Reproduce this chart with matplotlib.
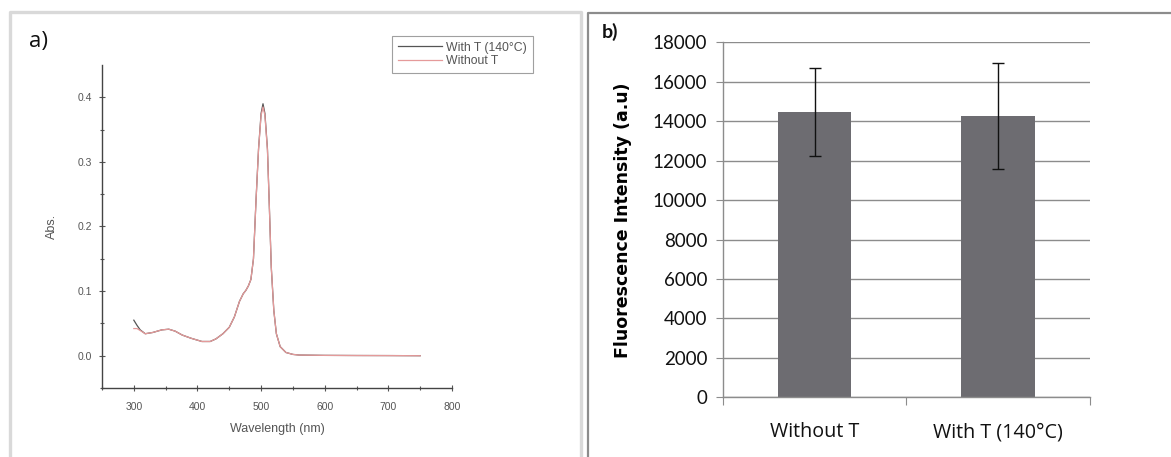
import matplotlib
matplotlib.use("Agg")
import matplotlib.pyplot as plt
from matplotlib.lines import Line2D

W, H = 1171, 457

# panel a) absorbance spectra
wavelength = [300, 305, 310, 318, 330, 344, 355, 365, 376, 390, 407, 420, 429,
              440, 450, 458, 466, 472, 476, 480, 484, 488, 492, 496, 500, 503,
              506, 510, 513, 516, 520, 524, 530, 539, 550, 560, 600, 650, 700, 750]
abs_with_t = [0.055, 0.047, 0.040, 0.034, 0.036, 0.040, 0.041, 0.038, 0.032, 0.027,
              0.022, 0.022, 0.026, 0.034, 0.044, 0.060, 0.084, 0.096, 0.101, 0.108,
              0.118, 0.150, 0.240, 0.320, 0.375, 0.390, 0.375, 0.320, 0.230, 0.137,
              0.070, 0.034, 0.014, 0.005, 0.002, 0.001, 0.0005, 0.0003, 0.0002, 0.0]
abs_without_t = [0.042, 0.042, 0.039, 0.034, 0.036, 0.040, 0.041, 0.038, 0.032, 0.027,
                 0.022, 0.022, 0.026, 0.034, 0.044, 0.060, 0.084, 0.096, 0.101, 0.108,
                 0.118, 0.150, 0.240, 0.320, 0.372, 0.385, 0.372, 0.318, 0.230, 0.137,
                 0.070, 0.034, 0.014, 0.005, 0.002, 0.001, 0.0005, 0.0003, 0.0002, 0.0]

# panel b) fluorescence
categories = ["Without T", "With T (140°C)"]
intensity = [14450, 14270]
intensity_err = [2230, 2670]

fig = plt.figure(figsize=(W / 100, H / 100), dpi=100)

def fx(px):
    return px / W

def fy(py):
    return 1 - py / H

# panel frames
fig.add_artist(Line2D([fx(9.5), fx(9.5), fx(581), fx(581)], [0, fy(12), fy(12), 0],
                      color="#d9d9d9", lw=2.4, transform=fig.transFigure))
fig.add_artist(Line2D([fx(588), fx(588), 1], [0, fy(12.5), fy(12.5)],
                      color="#8c8c8c", lw=1.6, transform=fig.transFigure))

# ---- a) ----
axa = fig.add_axes([fx(102), fy(388), fx(452 - 102), (388 - 65) / H])
axa.plot(wavelength, abs_with_t, color="#555555", lw=0.9, label="With T (140°C)")
axa.plot(wavelength, abs_without_t, color="#e59a9a", lw=0.9, label="Without T")
axa.set_xlim(250, 800)
axa.set_ylim(-0.05, 0.45)
axa.set_xticks([300, 400, 500, 600, 700, 800])
axa.set_xticks([250, 350, 450, 550, 650, 750], minor=True)
axa.set_yticks([0.0, 0.1, 0.2, 0.3, 0.4])
axa.set_yticks([-0.05, 0.05, 0.15, 0.25, 0.35], minor=True)
for s in ["top", "right"]:
    axa.spines[s].set_visible(False)
for s in ["left", "bottom"]:
    axa.spines[s].set_color("#444444")
    axa.spines[s].set_linewidth(1.0)
axa.tick_params(which="both", direction="inout", colors="#555555", labelsize=7.5,
                length=4, width=0.8)
axa.tick_params(which="minor", length=3)
axa.tick_params(axis="x", pad=8)
axa.tick_params(axis="y", pad=5)
axa.set_xlabel("Wavelength (nm)", fontsize=9, color="#555555",
               family="Liberation Sans", labelpad=8)
axa.set_ylabel("Abs.", fontsize=9, color="#555555", family="Liberation Sans",
               labelpad=14)
for lab in axa.get_xticklabels() + axa.get_yticklabels():
    lab.set_family("Liberation Sans")
axa.yaxis.set_major_formatter(matplotlib.ticker.FormatStrFormatter("%.1f"))
leg = axa.legend(loc="upper left", bbox_to_anchor=(fx(386), fy(30)),
                 bbox_transform=fig.transFigure, frameon=True,
                 fancybox=False, borderpad=0.45, labelspacing=0.15, handlelength=3.6,
                 handletextpad=0.4, prop={"family": "Liberation Sans", "size": 8.8})
leg.get_frame().set_edgecolor("#888888")
leg.get_frame().set_linewidth(0.8)
for t in leg.get_texts():
    t.set_color("#555555")
fig.text(fx(29), fy(42), "a)", fontsize=16, family="Open Sans", va="center",
         ha="left", color="#111111")

# ---- b) ----
axb = fig.add_axes([fx(722.7), fy(397.3), fx(1090 - 722.7), 355 / H])
xpos = list(range(len(categories)))
axb.bar(xpos, intensity, width=0.4, color="#6d6c71", zorder=2)
axb.errorbar(xpos, intensity, yerr=intensity_err, fmt="none", ecolor="#111111",
             elinewidth=1.0, capsize=4, capthick=1.0, zorder=3)
axb.set_xlim(-0.5, 1.5)
axb.set_ylim(0, 18000)
axb.set_yticks(range(0, 18001, 2000))
axb.yaxis.grid(True, color="#8c8c8c", lw=1.0, zorder=0)
axb.set_axisbelow(True)
for s in ["top", "right"]:
    axb.spines[s].set_visible(False)
for s in ["left", "bottom"]:
    axb.spines[s].set_color("#8c8c8c")
    axb.spines[s].set_linewidth(1.0)
axb.set_xticks([-0.5, 0.5, 1.5])
axb.set_xticklabels([])
axb.tick_params(axis="x", which="major", direction="out", length=6, color="#8c8c8c")
axb.tick_params(axis="y", direction="out", length=5, color="#8c8c8c", labelsize=13.5,
                pad=6)
# category labels on a common baseline
for x, name in zip(xpos, categories):
    axb.text(x, -0.112, name, transform=axb.get_xaxis_transform(), ha="center",
             va="baseline", fontsize=14.2, family="Open Sans", color="#111111")
for lab in axb.get_yticklabels():
    lab.set_family("Lato")
    lab.set_color("#111111")
axb.set_ylabel("Fluorescence Intensity (a.u)", fontsize=12.5, fontweight="bold",
               family="DejaVu Sans", labelpad=15)
fig.text(fx(602), fy(32), "b)", fontsize=14, fontweight="bold", family="Lato",
         va="center", ha="left", color="#111111")

fig.savefig("out.png", dpi=100, facecolor="white")
